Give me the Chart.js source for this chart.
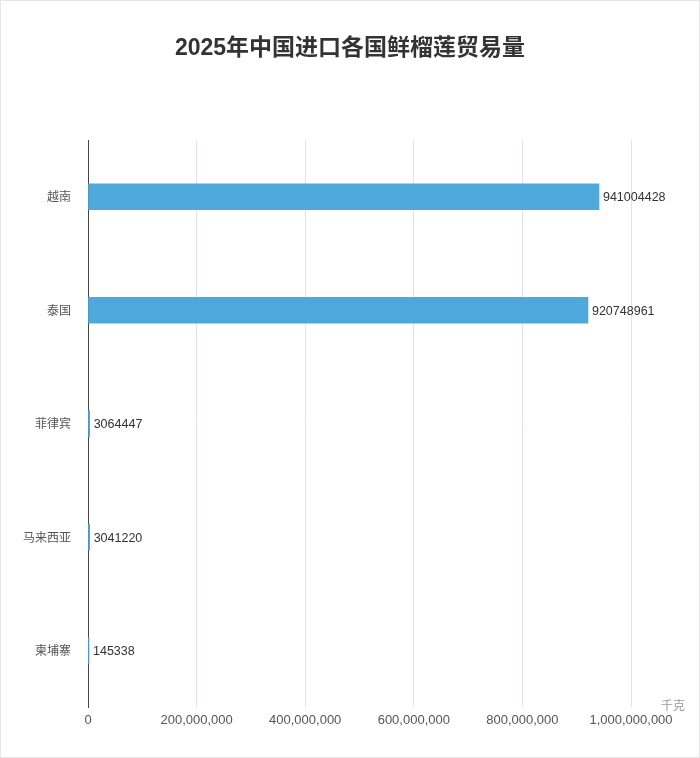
<!DOCTYPE html>
<html>
<head>
<meta charset="utf-8">
<script src="https://cdn.jsdelivr.net/npm/chart.js"></script>
<style>
  html, body { margin: 0; padding: 0; background: #fff; }
  #wrap { position: relative; width: 700px; height: 758px; box-sizing: border-box; border: 1px solid #e6e6e6; }
  canvas { display: block; }
</style>
</head>
<body>
<div id="wrap"><canvas id="barChart" width="698" height="756"></canvas></div>
<script>
// 国家
var countries = ['越南', '泰国', '菲律宾', '马来西亚', '柬埔寨'];
// 进口量 (千克)
var volumes = [941004428, 920748961, 3064447, 3041220, 145338];
var xTicks = [0, 200000000, 400000000, 600000000, 800000000, 1000000000];
var titleText = '2025年中国进口各国鲜榴莲贸易量';

var fontFamily = '"Liberation Sans", "Noto Sans CJK SC", sans-serif';

// 제목, 막대 끝 값, 단위 표시
var extraText = {
    id: 'extraText',
    afterDatasetsDraw: function (chart) {
        var ctx = chart.ctx;
        var meta = chart.getDatasetMeta(0);
        ctx.save();
        ctx.font = 'bold 23px ' + fontFamily;
        ctx.fillStyle = '#333';
        ctx.textAlign = 'center';
        ctx.textBaseline = 'middle';
        ctx.fillText(titleText, chart.width / 2, 48);

        ctx.font = '12.5px ' + fontFamily;
        ctx.fillStyle = '#333';
        ctx.textAlign = 'left';
        meta.data.forEach(function (bar, i) {
            ctx.fillText(String(volumes[i]), bar.x + 4, bar.y + 1);
        });
        // 단위
        ctx.font = '12px ' + fontFamily;
        ctx.fillStyle = '#999';
        ctx.textAlign = 'center';
        ctx.fillText('千克', chart.chartArea.right + 42, chart.chartArea.bottom - 1);
        ctx.restore();
    }
};

var ctx = document.getElementById('barChart').getContext('2d');
var chart = new Chart(ctx, {
    type: 'bar',
    data: {
        labels: countries,
        datasets: [{
            data: volumes,
            backgroundColor: '#4fa8dc',
            barThickness: 26,
            minBarLength: 1
        }]
    },
    options: {
        indexAxis: 'y',
        responsive: false,
        animation: false,
        layout: { padding: { left: 0, right: 68, top: 139, bottom: 24 } },
        plugins: {
            legend: { display: false },
            tooltip: { enabled: false },
            title: { display: false }
        },
        scales: {
            x: {
                min: 0,
                max: 1000000000,
                afterBuildTicks: function (scale) {
                    scale.ticks = xTicks.map(function (v) { return { value: v }; });
                },
                grid: { color: '#dde3ef', drawTicks: false },
                border: { display: false },
                ticks: {
                    color: '#555',
                    padding: 5,
                    font: { family: fontFamily, size: 13 },
                    callback: function (v) { return Number(v).toLocaleString('en-US'); }
                }
            },
            y: {
                afterFit: function (scale) { scale.width = 87; },
                grid: { display: false },
                border: { display: true, color: '#444', width: 1 },
                ticks: {
                    color: '#555',
                    padding: 9,
                    font: { family: '"Noto Sans CJK SC", sans-serif', size: 12 }
                }
            }
        }
    },
    plugins: [extraText]
});
</script>
</body>
</html>
